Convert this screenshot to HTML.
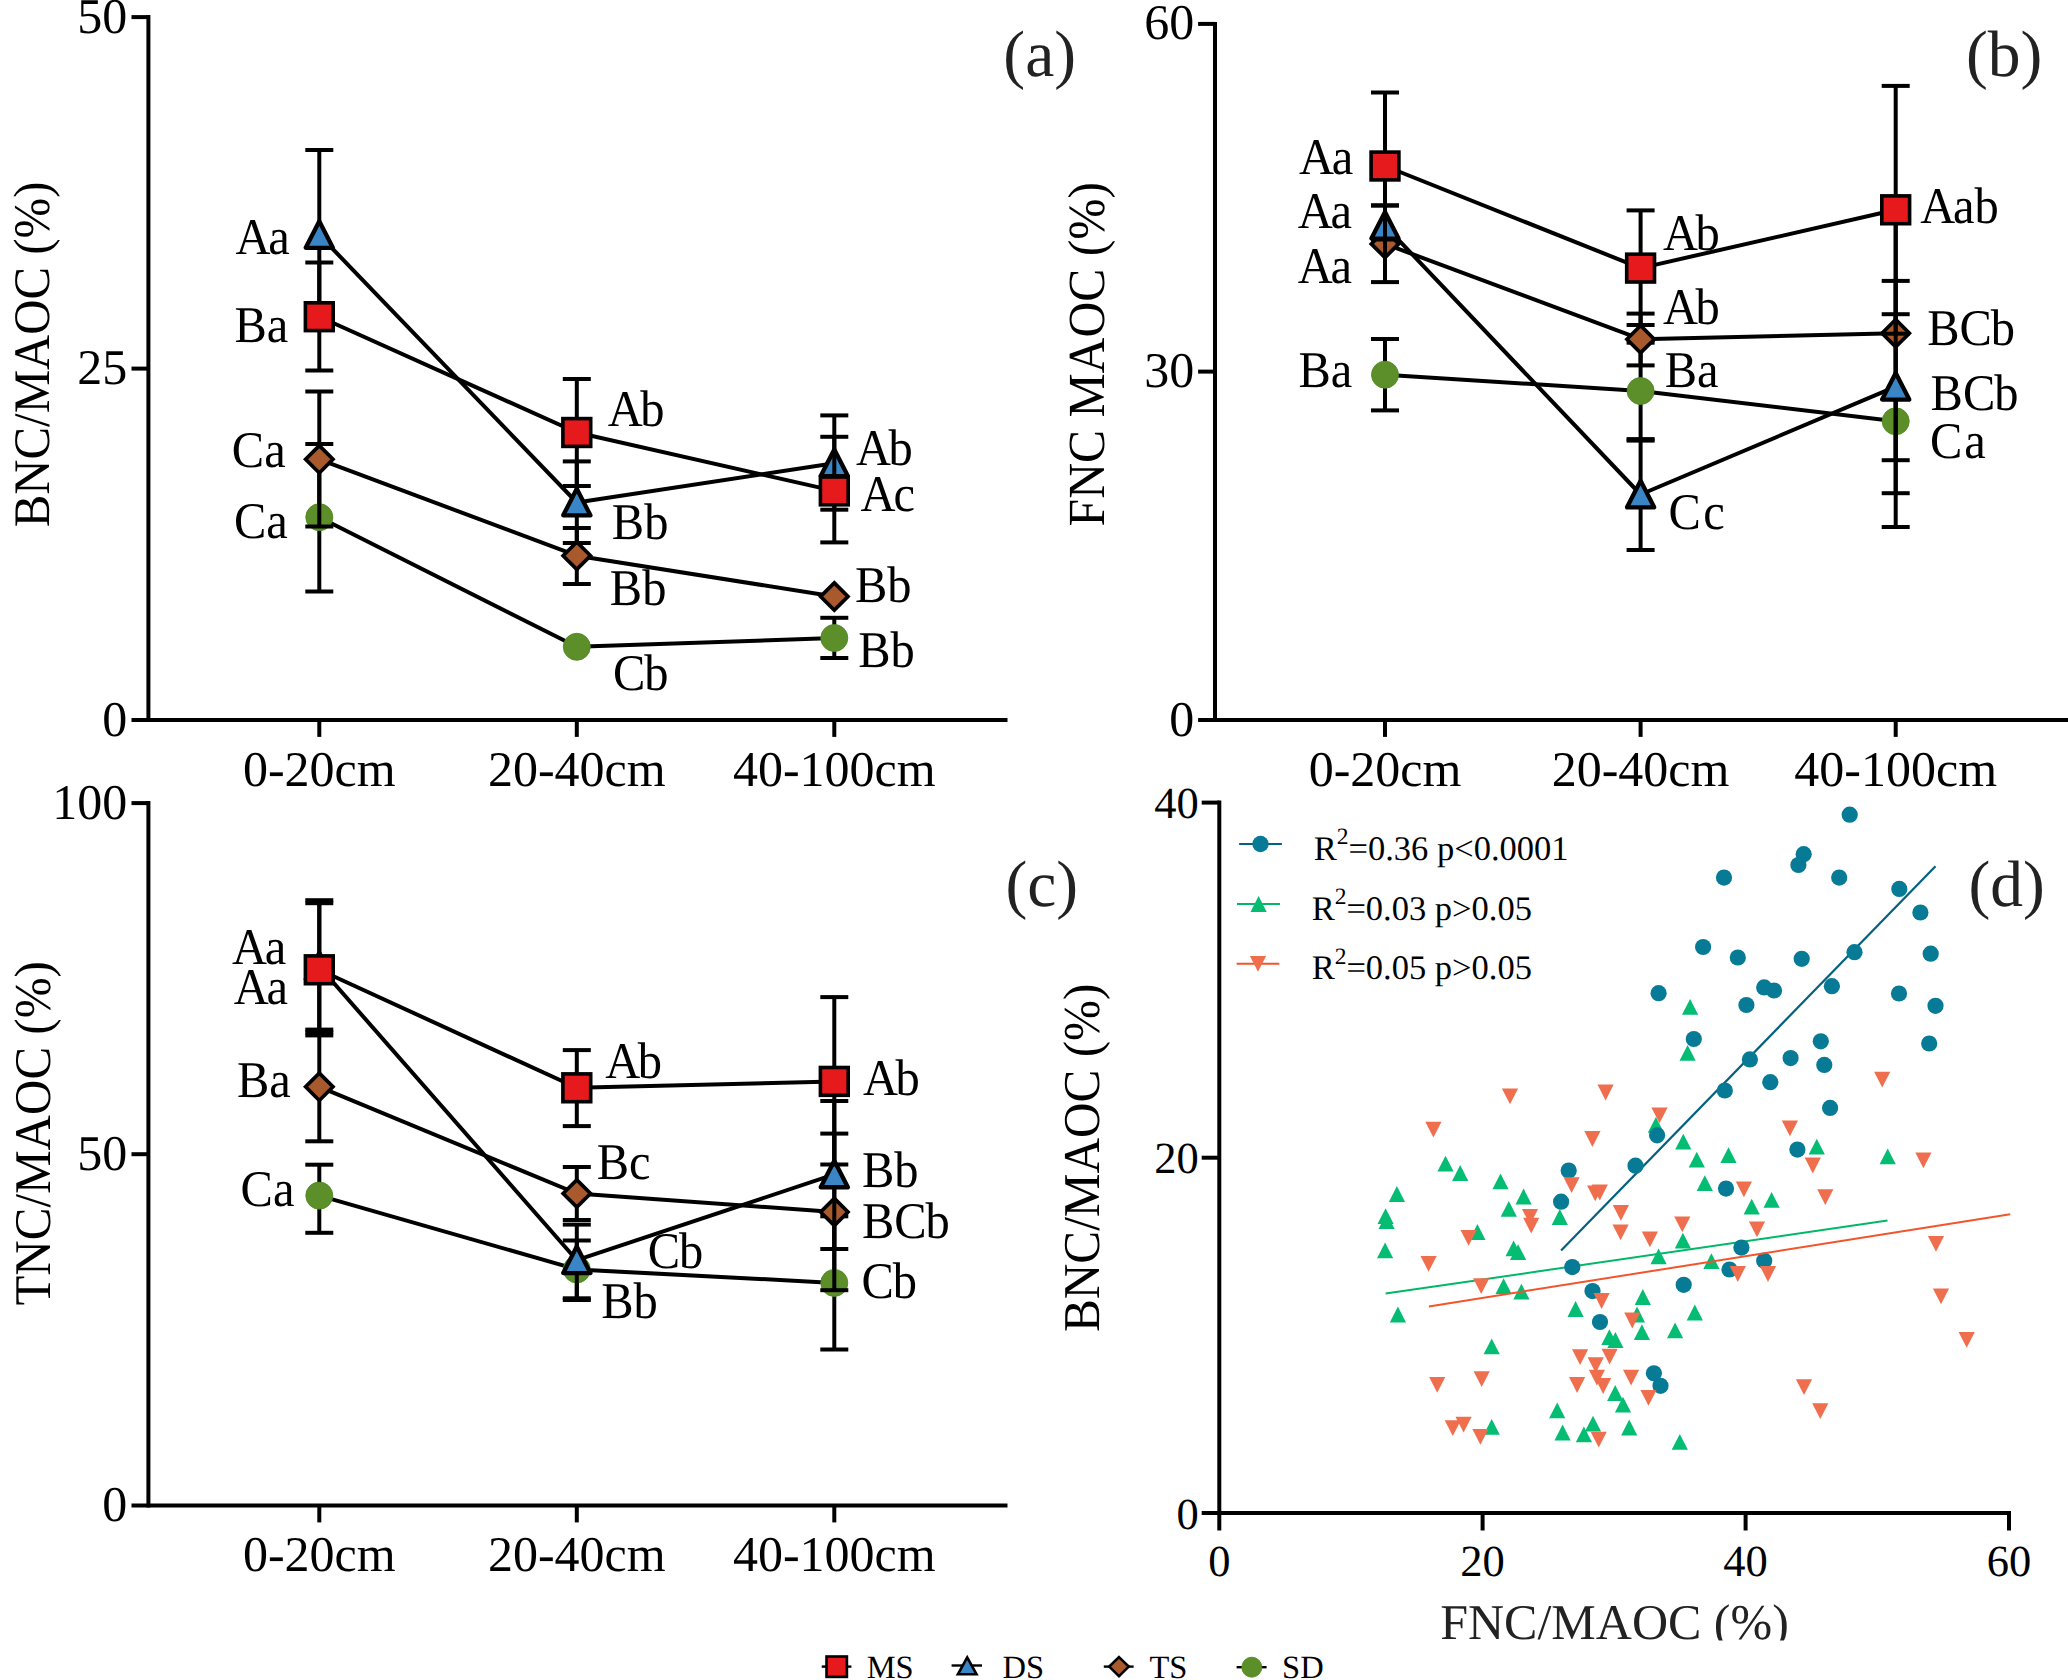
<!DOCTYPE html>
<html><head><meta charset="utf-8"><title>Figure</title>
<style>html,body{margin:0;padding:0;background:#fff;}body{width:2068px;height:1680px;overflow:hidden;font-family:"Liberation Serif",serif;}svg{display:block;}</style></head>
<body>
<svg width="2068" height="1680" viewBox="0 0 2068 1680" font-family="Liberation Serif, serif" text-rendering="geometricPrecision">
<rect width="2068" height="1680" fill="#fff"/>
<defs><clipPath id="cx"><rect x="1400" y="1580" width="420" height="60.6"/></clipPath></defs>
<line x1="148.40" y1="15.10" x2="148.40" y2="722.00" stroke="#000" stroke-width="4.0" stroke-linecap="butt"/>
<line x1="131.50" y1="720.00" x2="1007.50" y2="720.00" stroke="#000" stroke-width="4.0" stroke-linecap="butt"/>
<line x1="131.50" y1="17.10" x2="148.40" y2="17.10" stroke="#000" stroke-width="4.0" stroke-linecap="butt"/>
<line x1="131.50" y1="368.60" x2="148.40" y2="368.60" stroke="#000" stroke-width="4.0" stroke-linecap="butt"/>
<line x1="319.30" y1="720.00" x2="319.30" y2="736.90" stroke="#000" stroke-width="4.0" stroke-linecap="butt"/>
<line x1="576.80" y1="720.00" x2="576.80" y2="736.90" stroke="#000" stroke-width="4.0" stroke-linecap="butt"/>
<line x1="834.30" y1="720.00" x2="834.30" y2="736.90" stroke="#000" stroke-width="4.0" stroke-linecap="butt"/>
<text x="127.30" y="32.60" font-size="50" text-anchor="end" fill="#000" >50</text>
<text x="127.30" y="384.10" font-size="50" text-anchor="end" fill="#000" >25</text>
<text x="127.30" y="735.50" font-size="50" text-anchor="end" fill="#000" >0</text>
<text x="319.30" y="786.00" font-size="50" text-anchor="middle" fill="#000" >0-20cm</text>
<text x="576.80" y="786.00" font-size="50" text-anchor="middle" fill="#000" >20-40cm</text>
<text x="834.30" y="786.00" font-size="50" text-anchor="middle" fill="#000" >40-100cm</text>
<text transform="translate(49.0,354.4) rotate(-90) scale(1,1.05)" font-size="48.8" text-anchor="middle">BNC/MAOC (%)</text>
<polyline points="319.30,517.20 576.80,646.80 834.30,638.00" fill="none" stroke="#000" stroke-width="4.0" stroke-linejoin="round"/>
<line x1="319.30" y1="444.00" x2="319.30" y2="591.50" stroke="#000" stroke-width="4.0" stroke-linecap="butt"/>
<line x1="305.30" y1="444.00" x2="333.30" y2="444.00" stroke="#000" stroke-width="4.0" stroke-linecap="butt"/>
<line x1="305.30" y1="591.50" x2="333.30" y2="591.50" stroke="#000" stroke-width="4.0" stroke-linecap="butt"/>
<line x1="834.30" y1="617.80" x2="834.30" y2="658.00" stroke="#000" stroke-width="4.0" stroke-linecap="butt"/>
<line x1="820.30" y1="617.80" x2="848.30" y2="617.80" stroke="#000" stroke-width="4.0" stroke-linecap="butt"/>
<line x1="820.30" y1="658.00" x2="848.30" y2="658.00" stroke="#000" stroke-width="4.0" stroke-linecap="butt"/>
<circle cx="319.30" cy="517.20" r="13.5" fill="#5c8f2a" stroke="#4e8a1f" stroke-width="0.9"/>
<circle cx="576.80" cy="646.80" r="13.5" fill="#5c8f2a" stroke="#4e8a1f" stroke-width="0.9"/>
<circle cx="834.30" cy="638.00" r="13.5" fill="#5c8f2a" stroke="#4e8a1f" stroke-width="0.9"/>
<polyline points="319.30,459.30 576.80,555.70 834.30,596.50" fill="none" stroke="#000" stroke-width="4.0" stroke-linejoin="round"/>
<line x1="319.30" y1="391.50" x2="319.30" y2="526.50" stroke="#000" stroke-width="4.0" stroke-linecap="butt"/>
<line x1="305.30" y1="391.50" x2="333.30" y2="391.50" stroke="#000" stroke-width="4.0" stroke-linecap="butt"/>
<line x1="305.30" y1="526.50" x2="333.30" y2="526.50" stroke="#000" stroke-width="4.0" stroke-linecap="butt"/>
<line x1="576.80" y1="528.00" x2="576.80" y2="584.00" stroke="#000" stroke-width="4.0" stroke-linecap="butt"/>
<line x1="562.80" y1="528.00" x2="590.80" y2="528.00" stroke="#000" stroke-width="4.0" stroke-linecap="butt"/>
<line x1="562.80" y1="584.00" x2="590.80" y2="584.00" stroke="#000" stroke-width="4.0" stroke-linecap="butt"/>
<path d="M319.30,445.62 L332.98,459.30 L319.30,472.98 L305.62,459.30 Z" fill="#a95a2c" stroke="#000" stroke-width="3.7" stroke-linejoin="miter"/>
<path d="M576.80,542.02 L590.48,555.70 L576.80,569.38 L563.12,555.70 Z" fill="#a95a2c" stroke="#000" stroke-width="3.7" stroke-linejoin="miter"/>
<path d="M834.30,582.82 L847.98,596.50 L834.30,610.18 L820.62,596.50 Z" fill="#a95a2c" stroke="#000" stroke-width="3.7" stroke-linejoin="miter"/>
<polyline points="319.30,235.00 576.80,502.50 834.30,463.20" fill="none" stroke="#000" stroke-width="4.0" stroke-linejoin="round"/>
<line x1="319.30" y1="150.00" x2="319.30" y2="320.00" stroke="#000" stroke-width="4.0" stroke-linecap="butt"/>
<line x1="305.30" y1="150.00" x2="333.30" y2="150.00" stroke="#000" stroke-width="4.0" stroke-linecap="butt"/>
<line x1="305.30" y1="320.00" x2="333.30" y2="320.00" stroke="#000" stroke-width="4.0" stroke-linecap="butt"/>
<line x1="576.80" y1="461.40" x2="576.80" y2="543.00" stroke="#000" stroke-width="4.0" stroke-linecap="butt"/>
<line x1="562.80" y1="461.40" x2="590.80" y2="461.40" stroke="#000" stroke-width="4.0" stroke-linecap="butt"/>
<line x1="562.80" y1="543.00" x2="590.80" y2="543.00" stroke="#000" stroke-width="4.0" stroke-linecap="butt"/>
<line x1="834.30" y1="415.40" x2="834.30" y2="509.70" stroke="#000" stroke-width="4.0" stroke-linecap="butt"/>
<line x1="820.30" y1="415.40" x2="848.30" y2="415.40" stroke="#000" stroke-width="4.0" stroke-linecap="butt"/>
<line x1="820.30" y1="509.70" x2="848.30" y2="509.70" stroke="#000" stroke-width="4.0" stroke-linecap="butt"/>
<path d="M319.30,221.30 L332.90,247.85 L305.70,247.85 Z" fill="#3a85c5" stroke="#000" stroke-width="4.3" stroke-linejoin="round"/>
<path d="M576.80,488.80 L590.40,515.35 L563.20,515.35 Z" fill="#3a85c5" stroke="#000" stroke-width="4.3" stroke-linejoin="round"/>
<path d="M834.30,449.50 L847.90,476.05 L820.70,476.05 Z" fill="#3a85c5" stroke="#000" stroke-width="4.3" stroke-linejoin="round"/>
<polyline points="319.30,316.70 576.80,432.50 834.30,490.90" fill="none" stroke="#000" stroke-width="4.0" stroke-linejoin="round"/>
<line x1="319.30" y1="262.50" x2="319.30" y2="370.50" stroke="#000" stroke-width="4.0" stroke-linecap="butt"/>
<line x1="305.30" y1="262.50" x2="333.30" y2="262.50" stroke="#000" stroke-width="4.0" stroke-linecap="butt"/>
<line x1="305.30" y1="370.50" x2="333.30" y2="370.50" stroke="#000" stroke-width="4.0" stroke-linecap="butt"/>
<line x1="576.80" y1="379.00" x2="576.80" y2="486.00" stroke="#000" stroke-width="4.0" stroke-linecap="butt"/>
<line x1="562.80" y1="379.00" x2="590.80" y2="379.00" stroke="#000" stroke-width="4.0" stroke-linecap="butt"/>
<line x1="562.80" y1="486.00" x2="590.80" y2="486.00" stroke="#000" stroke-width="4.0" stroke-linecap="butt"/>
<line x1="834.30" y1="436.80" x2="834.30" y2="542.40" stroke="#000" stroke-width="4.0" stroke-linecap="butt"/>
<line x1="820.30" y1="436.80" x2="848.30" y2="436.80" stroke="#000" stroke-width="4.0" stroke-linecap="butt"/>
<line x1="820.30" y1="542.40" x2="848.30" y2="542.40" stroke="#000" stroke-width="4.0" stroke-linecap="butt"/>
<rect x="305.40" y="302.80" width="27.80" height="27.80" fill="#e6191c" stroke="#000" stroke-width="3.6"/>
<rect x="562.90" y="418.60" width="27.80" height="27.80" fill="#e6191c" stroke="#000" stroke-width="3.6"/>
<rect x="820.40" y="477.00" width="27.80" height="27.80" fill="#e6191c" stroke="#000" stroke-width="3.6"/>
<text transform="translate(235.50,254.00) scale(0.97,1.03)" font-size="50" text-anchor="start" fill="#000" >A<tspan dx="-2.4">a</tspan></text>
<text transform="translate(234.50,341.50) scale(0.97,1.03)" font-size="50" text-anchor="start" fill="#000" >Ba</text>
<text transform="translate(231.80,467.40) scale(0.97,1.03)" font-size="50" text-anchor="start" fill="#000" >Ca</text>
<text transform="translate(233.90,537.80) scale(0.97,1.03)" font-size="50" text-anchor="start" fill="#000" >Ca</text>
<text transform="translate(607.70,426.00) scale(0.97,1.03)" font-size="50" text-anchor="start" fill="#000" >A<tspan dx="-2.6">b</tspan></text>
<text transform="translate(611.80,538.60) scale(0.97,1.03)" font-size="50" text-anchor="start" fill="#000" >Bb</text>
<text transform="translate(609.80,605.30) scale(0.97,1.03)" font-size="50" text-anchor="start" fill="#000" >Bb</text>
<text transform="translate(613.00,690.00) scale(0.97,1.03)" font-size="50" text-anchor="start" fill="#000" >C<tspan dx="-1.2">b</tspan></text>
<text transform="translate(855.90,465.00) scale(0.97,1.03)" font-size="50" text-anchor="start" fill="#000" >A<tspan dx="-2.6">b</tspan></text>
<text transform="translate(860.50,511.00) scale(0.97,1.03)" font-size="50" text-anchor="start" fill="#000" >A<tspan dx="-2.2">c</tspan></text>
<text transform="translate(854.90,602.30) scale(0.97,1.03)" font-size="50" text-anchor="start" fill="#000" >Bb</text>
<text transform="translate(858.20,666.90) scale(0.97,1.03)" font-size="50" text-anchor="start" fill="#000" >Bb</text>
<text x="1003.35" y="76.00" font-size="65.5" text-anchor="start" fill="#222" >(a)</text>
<line x1="1215.00" y1="21.90" x2="1215.00" y2="722.00" stroke="#000" stroke-width="4.0" stroke-linecap="butt"/>
<line x1="1198.10" y1="720.00" x2="2068.00" y2="720.00" stroke="#000" stroke-width="4.0" stroke-linecap="butt"/>
<line x1="1198.10" y1="23.90" x2="1215.00" y2="23.90" stroke="#000" stroke-width="4.0" stroke-linecap="butt"/>
<line x1="1198.10" y1="371.60" x2="1215.00" y2="371.60" stroke="#000" stroke-width="4.0" stroke-linecap="butt"/>
<line x1="1385.00" y1="720.00" x2="1385.00" y2="736.90" stroke="#000" stroke-width="4.0" stroke-linecap="butt"/>
<line x1="1640.60" y1="720.00" x2="1640.60" y2="736.90" stroke="#000" stroke-width="4.0" stroke-linecap="butt"/>
<line x1="1895.70" y1="720.00" x2="1895.70" y2="736.90" stroke="#000" stroke-width="4.0" stroke-linecap="butt"/>
<text x="1194.30" y="39.40" font-size="50" text-anchor="end" fill="#000" >60</text>
<text x="1194.30" y="387.10" font-size="50" text-anchor="end" fill="#000" >30</text>
<text x="1194.30" y="735.50" font-size="50" text-anchor="end" fill="#000" >0</text>
<text x="1385.00" y="786.00" font-size="50" text-anchor="middle" fill="#000" >0-20cm</text>
<text x="1640.60" y="786.00" font-size="50" text-anchor="middle" fill="#000" >20-40cm</text>
<text x="1895.70" y="786.00" font-size="50" text-anchor="middle" fill="#000" >40-100cm</text>
<text transform="translate(1104.0,354.2) rotate(-90) scale(1,1.05)" font-size="49.6" text-anchor="middle">FNC MAOC (%)</text>
<polyline points="1385.00,374.70 1640.60,391.00 1895.70,421.30" fill="none" stroke="#000" stroke-width="4.0" stroke-linejoin="round"/>
<line x1="1385.00" y1="339.00" x2="1385.00" y2="410.40" stroke="#000" stroke-width="4.0" stroke-linecap="butt"/>
<line x1="1371.00" y1="339.00" x2="1399.00" y2="339.00" stroke="#000" stroke-width="4.0" stroke-linecap="butt"/>
<line x1="1371.00" y1="410.40" x2="1399.00" y2="410.40" stroke="#000" stroke-width="4.0" stroke-linecap="butt"/>
<line x1="1640.60" y1="342.70" x2="1640.60" y2="440.60" stroke="#000" stroke-width="4.0" stroke-linecap="butt"/>
<line x1="1626.60" y1="342.70" x2="1654.60" y2="342.70" stroke="#000" stroke-width="4.0" stroke-linecap="butt"/>
<line x1="1626.60" y1="440.60" x2="1654.60" y2="440.60" stroke="#000" stroke-width="4.0" stroke-linecap="butt"/>
<line x1="1895.70" y1="314.20" x2="1895.70" y2="527.00" stroke="#000" stroke-width="4.0" stroke-linecap="butt"/>
<line x1="1881.70" y1="314.20" x2="1909.70" y2="314.20" stroke="#000" stroke-width="4.0" stroke-linecap="butt"/>
<line x1="1881.70" y1="527.00" x2="1909.70" y2="527.00" stroke="#000" stroke-width="4.0" stroke-linecap="butt"/>
<circle cx="1385.00" cy="374.70" r="13.5" fill="#5c8f2a" stroke="#4e8a1f" stroke-width="0.9"/>
<circle cx="1640.60" cy="391.00" r="13.5" fill="#5c8f2a" stroke="#4e8a1f" stroke-width="0.9"/>
<circle cx="1895.70" cy="421.30" r="13.5" fill="#5c8f2a" stroke="#4e8a1f" stroke-width="0.9"/>
<polyline points="1385.00,243.90 1640.60,339.20 1895.70,333.20" fill="none" stroke="#000" stroke-width="4.0" stroke-linejoin="round"/>
<line x1="1385.00" y1="205.50" x2="1385.00" y2="282.10" stroke="#000" stroke-width="4.0" stroke-linecap="butt"/>
<line x1="1371.00" y1="205.50" x2="1399.00" y2="205.50" stroke="#000" stroke-width="4.0" stroke-linecap="butt"/>
<line x1="1371.00" y1="282.10" x2="1399.00" y2="282.10" stroke="#000" stroke-width="4.0" stroke-linecap="butt"/>
<line x1="1640.60" y1="313.60" x2="1640.60" y2="365.40" stroke="#000" stroke-width="4.0" stroke-linecap="butt"/>
<line x1="1626.60" y1="313.60" x2="1654.60" y2="313.60" stroke="#000" stroke-width="4.0" stroke-linecap="butt"/>
<line x1="1626.60" y1="365.40" x2="1654.60" y2="365.40" stroke="#000" stroke-width="4.0" stroke-linecap="butt"/>
<line x1="1895.70" y1="206.00" x2="1895.70" y2="460.20" stroke="#000" stroke-width="4.0" stroke-linecap="butt"/>
<line x1="1881.70" y1="206.00" x2="1909.70" y2="206.00" stroke="#000" stroke-width="4.0" stroke-linecap="butt"/>
<line x1="1881.70" y1="460.20" x2="1909.70" y2="460.20" stroke="#000" stroke-width="4.0" stroke-linecap="butt"/>
<path d="M1385.00,230.22 L1398.68,243.90 L1385.00,257.58 L1371.32,243.90 Z" fill="#a95a2c" stroke="#000" stroke-width="3.7" stroke-linejoin="miter"/>
<path d="M1640.60,325.52 L1654.28,339.20 L1640.60,352.88 L1626.92,339.20 Z" fill="#a95a2c" stroke="#000" stroke-width="3.7" stroke-linejoin="miter"/>
<path d="M1895.70,319.52 L1909.38,333.20 L1895.70,346.88 L1882.02,333.20 Z" fill="#a95a2c" stroke="#000" stroke-width="3.7" stroke-linejoin="miter"/>
<polyline points="1385.00,225.70 1640.60,494.50 1895.70,386.70" fill="none" stroke="#000" stroke-width="4.0" stroke-linejoin="round"/>
<line x1="1385.00" y1="205.40" x2="1385.00" y2="256.00" stroke="#000" stroke-width="4.0" stroke-linecap="butt"/>
<line x1="1371.00" y1="205.40" x2="1399.00" y2="205.40" stroke="#000" stroke-width="4.0" stroke-linecap="butt"/>
<line x1="1640.60" y1="439.10" x2="1640.60" y2="550.00" stroke="#000" stroke-width="4.0" stroke-linecap="butt"/>
<line x1="1626.60" y1="439.10" x2="1654.60" y2="439.10" stroke="#000" stroke-width="4.0" stroke-linecap="butt"/>
<line x1="1626.60" y1="550.00" x2="1654.60" y2="550.00" stroke="#000" stroke-width="4.0" stroke-linecap="butt"/>
<line x1="1895.70" y1="280.90" x2="1895.70" y2="493.20" stroke="#000" stroke-width="4.0" stroke-linecap="butt"/>
<line x1="1881.70" y1="280.90" x2="1909.70" y2="280.90" stroke="#000" stroke-width="4.0" stroke-linecap="butt"/>
<line x1="1881.70" y1="493.20" x2="1909.70" y2="493.20" stroke="#000" stroke-width="4.0" stroke-linecap="butt"/>
<path d="M1385.00,212.00 L1398.60,238.55 L1371.40,238.55 Z" fill="#3a85c5" stroke="#000" stroke-width="4.3" stroke-linejoin="round"/>
<path d="M1640.60,480.80 L1654.20,507.35 L1627.00,507.35 Z" fill="#3a85c5" stroke="#000" stroke-width="4.3" stroke-linejoin="round"/>
<path d="M1895.70,373.00 L1909.30,399.55 L1882.10,399.55 Z" fill="#3a85c5" stroke="#000" stroke-width="4.3" stroke-linejoin="round"/>
<polyline points="1385.00,166.00 1640.60,268.10 1895.70,209.80" fill="none" stroke="#000" stroke-width="4.0" stroke-linejoin="round"/>
<line x1="1385.00" y1="92.50" x2="1385.00" y2="239.50" stroke="#000" stroke-width="4.0" stroke-linecap="butt"/>
<line x1="1371.00" y1="92.50" x2="1399.00" y2="92.50" stroke="#000" stroke-width="4.0" stroke-linecap="butt"/>
<line x1="1371.00" y1="239.50" x2="1399.00" y2="239.50" stroke="#000" stroke-width="4.0" stroke-linecap="butt"/>
<line x1="1640.60" y1="210.40" x2="1640.60" y2="325.00" stroke="#000" stroke-width="4.0" stroke-linecap="butt"/>
<line x1="1626.60" y1="210.40" x2="1654.60" y2="210.40" stroke="#000" stroke-width="4.0" stroke-linecap="butt"/>
<line x1="1626.60" y1="325.00" x2="1654.60" y2="325.00" stroke="#000" stroke-width="4.0" stroke-linecap="butt"/>
<line x1="1895.70" y1="85.90" x2="1895.70" y2="333.70" stroke="#000" stroke-width="4.0" stroke-linecap="butt"/>
<line x1="1881.70" y1="85.90" x2="1909.70" y2="85.90" stroke="#000" stroke-width="4.0" stroke-linecap="butt"/>
<line x1="1881.70" y1="333.70" x2="1909.70" y2="333.70" stroke="#000" stroke-width="4.0" stroke-linecap="butt"/>
<rect x="1371.10" y="152.10" width="27.80" height="27.80" fill="#e6191c" stroke="#000" stroke-width="3.6"/>
<rect x="1626.70" y="254.20" width="27.80" height="27.80" fill="#e6191c" stroke="#000" stroke-width="3.6"/>
<rect x="1881.80" y="195.90" width="27.80" height="27.80" fill="#e6191c" stroke="#000" stroke-width="3.6"/>
<text x="1966.05" y="76.00" font-size="65.5" text-anchor="start" fill="#222" >(b)</text>
<line x1="148.40" y1="801.10" x2="148.40" y2="1507.50" stroke="#000" stroke-width="4.0" stroke-linecap="butt"/>
<line x1="131.50" y1="1505.50" x2="1007.50" y2="1505.50" stroke="#000" stroke-width="4.0" stroke-linecap="butt"/>
<line x1="131.50" y1="803.10" x2="148.40" y2="803.10" stroke="#000" stroke-width="4.0" stroke-linecap="butt"/>
<line x1="131.50" y1="1154.20" x2="148.40" y2="1154.20" stroke="#000" stroke-width="4.0" stroke-linecap="butt"/>
<line x1="319.30" y1="1505.50" x2="319.30" y2="1522.40" stroke="#000" stroke-width="4.0" stroke-linecap="butt"/>
<line x1="576.80" y1="1505.50" x2="576.80" y2="1522.40" stroke="#000" stroke-width="4.0" stroke-linecap="butt"/>
<line x1="834.30" y1="1505.50" x2="834.30" y2="1522.40" stroke="#000" stroke-width="4.0" stroke-linecap="butt"/>
<text x="127.30" y="818.60" font-size="50" text-anchor="end" fill="#000" >100</text>
<text x="127.30" y="1169.70" font-size="50" text-anchor="end" fill="#000" >50</text>
<text x="127.30" y="1521.00" font-size="50" text-anchor="end" fill="#000" >0</text>
<text x="319.30" y="1571.00" font-size="50" text-anchor="middle" fill="#000" >0-20cm</text>
<text x="576.80" y="1571.00" font-size="50" text-anchor="middle" fill="#000" >20-40cm</text>
<text x="834.30" y="1571.00" font-size="50" text-anchor="middle" fill="#000" >40-100cm</text>
<text transform="translate(49.5,1133.4) rotate(-90) scale(1,1.05)" font-size="49" text-anchor="middle">TNC/MAOC (%)</text>
<polyline points="319.30,1195.60 576.80,1269.40 834.30,1282.90" fill="none" stroke="#000" stroke-width="4.0" stroke-linejoin="round"/>
<line x1="319.30" y1="1164.70" x2="319.30" y2="1232.80" stroke="#000" stroke-width="4.0" stroke-linecap="butt"/>
<line x1="305.30" y1="1164.70" x2="333.30" y2="1164.70" stroke="#000" stroke-width="4.0" stroke-linecap="butt"/>
<line x1="305.30" y1="1232.80" x2="333.30" y2="1232.80" stroke="#000" stroke-width="4.0" stroke-linecap="butt"/>
<line x1="576.80" y1="1240.50" x2="576.80" y2="1298.30" stroke="#000" stroke-width="4.0" stroke-linecap="butt"/>
<line x1="562.80" y1="1240.50" x2="590.80" y2="1240.50" stroke="#000" stroke-width="4.0" stroke-linecap="butt"/>
<line x1="562.80" y1="1298.30" x2="590.80" y2="1298.30" stroke="#000" stroke-width="4.0" stroke-linecap="butt"/>
<line x1="834.30" y1="1216.30" x2="834.30" y2="1349.50" stroke="#000" stroke-width="4.0" stroke-linecap="butt"/>
<line x1="820.30" y1="1216.30" x2="848.30" y2="1216.30" stroke="#000" stroke-width="4.0" stroke-linecap="butt"/>
<line x1="820.30" y1="1349.50" x2="848.30" y2="1349.50" stroke="#000" stroke-width="4.0" stroke-linecap="butt"/>
<circle cx="319.30" cy="1195.60" r="13.5" fill="#5c8f2a" stroke="#4e8a1f" stroke-width="0.9"/>
<circle cx="576.80" cy="1269.40" r="13.5" fill="#5c8f2a" stroke="#4e8a1f" stroke-width="0.9"/>
<circle cx="834.30" cy="1282.90" r="13.5" fill="#5c8f2a" stroke="#4e8a1f" stroke-width="0.9"/>
<polyline points="319.30,1086.80 576.80,1193.50 834.30,1212.00" fill="none" stroke="#000" stroke-width="4.0" stroke-linejoin="round"/>
<line x1="319.30" y1="1032.30" x2="319.30" y2="1141.30" stroke="#000" stroke-width="4.0" stroke-linecap="butt"/>
<line x1="305.30" y1="1032.30" x2="333.30" y2="1032.30" stroke="#000" stroke-width="4.0" stroke-linecap="butt"/>
<line x1="305.30" y1="1141.30" x2="333.30" y2="1141.30" stroke="#000" stroke-width="4.0" stroke-linecap="butt"/>
<line x1="576.80" y1="1167.00" x2="576.80" y2="1220.00" stroke="#000" stroke-width="4.0" stroke-linecap="butt"/>
<line x1="562.80" y1="1167.00" x2="590.80" y2="1167.00" stroke="#000" stroke-width="4.0" stroke-linecap="butt"/>
<line x1="562.80" y1="1220.00" x2="590.80" y2="1220.00" stroke="#000" stroke-width="4.0" stroke-linecap="butt"/>
<line x1="834.30" y1="1133.60" x2="834.30" y2="1290.20" stroke="#000" stroke-width="4.0" stroke-linecap="butt"/>
<line x1="820.30" y1="1133.60" x2="848.30" y2="1133.60" stroke="#000" stroke-width="4.0" stroke-linecap="butt"/>
<line x1="820.30" y1="1290.20" x2="848.30" y2="1290.20" stroke="#000" stroke-width="4.0" stroke-linecap="butt"/>
<path d="M319.30,1073.12 L332.98,1086.80 L319.30,1100.48 L305.62,1086.80 Z" fill="#a95a2c" stroke="#000" stroke-width="3.7" stroke-linejoin="miter"/>
<path d="M576.80,1179.82 L590.48,1193.50 L576.80,1207.18 L563.12,1193.50 Z" fill="#a95a2c" stroke="#000" stroke-width="3.7" stroke-linejoin="miter"/>
<path d="M834.30,1198.32 L847.98,1212.00 L834.30,1225.68 L820.62,1212.00 Z" fill="#a95a2c" stroke="#000" stroke-width="3.7" stroke-linejoin="miter"/>
<polyline points="319.30,966.50 576.80,1260.20 834.30,1174.40" fill="none" stroke="#000" stroke-width="4.0" stroke-linejoin="round"/>
<line x1="319.30" y1="900.20" x2="319.30" y2="1029.60" stroke="#000" stroke-width="4.0" stroke-linecap="butt"/>
<line x1="305.30" y1="900.20" x2="333.30" y2="900.20" stroke="#000" stroke-width="4.0" stroke-linecap="butt"/>
<line x1="305.30" y1="1029.60" x2="333.30" y2="1029.60" stroke="#000" stroke-width="4.0" stroke-linecap="butt"/>
<line x1="576.80" y1="1224.60" x2="576.80" y2="1300.00" stroke="#000" stroke-width="4.0" stroke-linecap="butt"/>
<line x1="562.80" y1="1224.60" x2="590.80" y2="1224.60" stroke="#000" stroke-width="4.0" stroke-linecap="butt"/>
<line x1="562.80" y1="1300.00" x2="590.80" y2="1300.00" stroke="#000" stroke-width="4.0" stroke-linecap="butt"/>
<line x1="834.30" y1="1101.00" x2="834.30" y2="1249.00" stroke="#000" stroke-width="4.0" stroke-linecap="butt"/>
<line x1="820.30" y1="1101.00" x2="848.30" y2="1101.00" stroke="#000" stroke-width="4.0" stroke-linecap="butt"/>
<line x1="820.30" y1="1249.00" x2="848.30" y2="1249.00" stroke="#000" stroke-width="4.0" stroke-linecap="butt"/>
<path d="M319.30,952.80 L332.90,979.35 L305.70,979.35 Z" fill="#3a85c5" stroke="#000" stroke-width="4.3" stroke-linejoin="round"/>
<path d="M576.80,1246.50 L590.40,1273.05 L563.20,1273.05 Z" fill="#3a85c5" stroke="#000" stroke-width="4.3" stroke-linejoin="round"/>
<path d="M834.30,1160.70 L847.90,1187.25 L820.70,1187.25 Z" fill="#3a85c5" stroke="#000" stroke-width="4.3" stroke-linejoin="round"/>
<polyline points="319.30,969.80 576.80,1087.80 834.30,1081.40" fill="none" stroke="#000" stroke-width="4.0" stroke-linejoin="round"/>
<line x1="319.30" y1="903.20" x2="319.30" y2="1035.40" stroke="#000" stroke-width="4.0" stroke-linecap="butt"/>
<line x1="305.30" y1="903.20" x2="333.30" y2="903.20" stroke="#000" stroke-width="4.0" stroke-linecap="butt"/>
<line x1="305.30" y1="1035.40" x2="333.30" y2="1035.40" stroke="#000" stroke-width="4.0" stroke-linecap="butt"/>
<line x1="576.80" y1="1050.10" x2="576.80" y2="1126.10" stroke="#000" stroke-width="4.0" stroke-linecap="butt"/>
<line x1="562.80" y1="1050.10" x2="590.80" y2="1050.10" stroke="#000" stroke-width="4.0" stroke-linecap="butt"/>
<line x1="562.80" y1="1126.10" x2="590.80" y2="1126.10" stroke="#000" stroke-width="4.0" stroke-linecap="butt"/>
<line x1="834.30" y1="997.10" x2="834.30" y2="1164.50" stroke="#000" stroke-width="4.0" stroke-linecap="butt"/>
<line x1="820.30" y1="997.10" x2="848.30" y2="997.10" stroke="#000" stroke-width="4.0" stroke-linecap="butt"/>
<line x1="820.30" y1="1164.50" x2="848.30" y2="1164.50" stroke="#000" stroke-width="4.0" stroke-linecap="butt"/>
<rect x="305.40" y="955.90" width="27.80" height="27.80" fill="#e6191c" stroke="#000" stroke-width="3.6"/>
<rect x="562.90" y="1073.90" width="27.80" height="27.80" fill="#e6191c" stroke="#000" stroke-width="3.6"/>
<rect x="820.40" y="1067.50" width="27.80" height="27.80" fill="#e6191c" stroke="#000" stroke-width="3.6"/>
<text transform="translate(232.10,964.00) scale(0.97,1.03)" font-size="50" text-anchor="start" fill="#000" >A<tspan dx="-2.4">a</tspan></text>
<text transform="translate(233.80,1003.80) scale(0.97,1.03)" font-size="50" text-anchor="start" fill="#000" >A<tspan dx="-2.4">a</tspan></text>
<text transform="translate(236.90,1096.80) scale(0.97,1.03)" font-size="50" text-anchor="start" fill="#000" >Ba</text>
<text transform="translate(240.60,1205.50) scale(0.97,1.03)" font-size="50" text-anchor="start" fill="#000" >Ca</text>
<text transform="translate(605.20,1077.80) scale(0.97,1.03)" font-size="50" text-anchor="start" fill="#000" >A<tspan dx="-2.6">b</tspan></text>
<text transform="translate(596.70,1179.40) scale(0.97,1.03)" font-size="50" text-anchor="start" fill="#000" >Bc</text>
<text transform="translate(647.70,1268.10) scale(0.97,1.03)" font-size="50" text-anchor="start" fill="#000" >C<tspan dx="-1.2">b</tspan></text>
<text transform="translate(601.20,1318.40) scale(0.97,1.03)" font-size="50" text-anchor="start" fill="#000" >Bb</text>
<text transform="translate(863.00,1094.60) scale(0.97,1.03)" font-size="50" text-anchor="start" fill="#000" >A<tspan dx="-2.6">b</tspan></text>
<text transform="translate(862.00,1186.90) scale(0.97,1.03)" font-size="50" text-anchor="start" fill="#000" >Bb</text>
<text transform="translate(862.00,1237.50) scale(0.97,1.03)" font-size="50" text-anchor="start" fill="#000" >BC<tspan dx="-1.2">b</tspan></text>
<text transform="translate(861.50,1298.30) scale(0.97,1.03)" font-size="50" text-anchor="start" fill="#000" >C<tspan dx="-1.2">b</tspan></text>
<text x="1005.45" y="905.90" font-size="65.5" text-anchor="start" fill="#222" >(c)</text>
<text transform="translate(1299.00,174.00) scale(0.97,1.03)" font-size="50" text-anchor="start" fill="#000" >A<tspan dx="-2.4">a</tspan></text>
<text transform="translate(1297.70,228.30) scale(0.97,1.03)" font-size="50" text-anchor="start" fill="#000" >A<tspan dx="-2.4">a</tspan></text>
<text transform="translate(1297.70,283.40) scale(0.97,1.03)" font-size="50" text-anchor="start" fill="#000" >A<tspan dx="-2.4">a</tspan></text>
<text transform="translate(1298.50,387.20) scale(0.97,1.03)" font-size="50" text-anchor="start" fill="#000" >Ba</text>
<text transform="translate(1662.90,250.20) scale(0.97,1.03)" font-size="50" text-anchor="start" fill="#000" >A<tspan dx="-2.6">b</tspan></text>
<text transform="translate(1662.90,324.10) scale(0.97,1.03)" font-size="50" text-anchor="start" fill="#000" >A<tspan dx="-2.6">b</tspan></text>
<text transform="translate(1664.70,386.70) scale(0.97,1.03)" font-size="50" text-anchor="start" fill="#000" >Ba</text>
<text transform="translate(1920.20,223.20) scale(0.97,1.03)" font-size="50" text-anchor="start" fill="#000" >A<tspan dx="-2.4">a</tspan>b</text>
<text transform="translate(1927.20,344.90) scale(0.97,1.03)" font-size="50" text-anchor="start" fill="#000" >BC<tspan dx="-1.2">b</tspan></text>
<text transform="translate(1930.60,410.30) scale(0.97,1.03)" font-size="50" text-anchor="start" fill="#000" >BC<tspan dx="-1.2">b</tspan></text>
<text transform="translate(1930.10,457.50) scale(0.97,1.03)" font-size="50" text-anchor="start" fill="#000" letter-spacing="1.8">Ca</text>
<text transform="translate(1668.50,528.70) scale(0.97,1.03)" font-size="50" text-anchor="start" fill="#000" letter-spacing="2.5">Cc</text>
<line x1="1219.30" y1="800.60" x2="1219.30" y2="1530.50" stroke="#000" stroke-width="4.0" stroke-linecap="butt"/>
<line x1="1201.70" y1="1513.00" x2="2011.00" y2="1513.00" stroke="#000" stroke-width="4.0" stroke-linecap="butt"/>
<line x1="1201.70" y1="802.60" x2="1219.30" y2="802.60" stroke="#000" stroke-width="4.0" stroke-linecap="butt"/>
<line x1="1201.70" y1="1157.70" x2="1219.30" y2="1157.70" stroke="#000" stroke-width="4.0" stroke-linecap="butt"/>
<line x1="1482.60" y1="1513.00" x2="1482.60" y2="1530.50" stroke="#000" stroke-width="4.0" stroke-linecap="butt"/>
<line x1="1745.60" y1="1513.00" x2="1745.60" y2="1530.50" stroke="#000" stroke-width="4.0" stroke-linecap="butt"/>
<line x1="2009.00" y1="1513.00" x2="2009.00" y2="1530.50" stroke="#000" stroke-width="4.0" stroke-linecap="butt"/>
<text x="1198.80" y="817.60" font-size="44.5" text-anchor="end" fill="#000" >40</text>
<text x="1198.80" y="1172.70" font-size="44.5" text-anchor="end" fill="#000" >20</text>
<text x="1198.80" y="1529.00" font-size="44.5" text-anchor="end" fill="#000" >0</text>
<text x="1219.30" y="1576.40" font-size="44.5" text-anchor="middle" fill="#000" >0</text>
<text x="1482.60" y="1576.40" font-size="44.5" text-anchor="middle" fill="#000" >20</text>
<text x="1745.60" y="1576.40" font-size="44.5" text-anchor="middle" fill="#000" >40</text>
<text x="2009.00" y="1576.40" font-size="44.5" text-anchor="middle" fill="#000" >60</text>
<text transform="translate(1099.0,1157.8) rotate(-90) scale(1,1.05)" font-size="49.2" text-anchor="middle">BNC/MAOC (%)</text>
<g clip-path="url(#cx)"><text x="1614.5" y="1638.6" font-size="50" text-anchor="middle" fill="#222">FNC/MAOC (%)</text></g>
<text x="1968.55" y="906.00" font-size="65.5" text-anchor="start" fill="#222" >(d)</text>
<line x1="1385.60" y1="1293.60" x2="1887.50" y2="1220.50" stroke="#00b868" stroke-width="2.0" stroke-linecap="butt"/>
<path d="M1690.1,998.9 L1698.2,1014.7 L1682.0,1014.7 Z" fill="#05bc73"/>
<path d="M1687.6,1044.9 L1695.7,1060.7 L1679.5,1060.7 Z" fill="#05bc73"/>
<path d="M1655.9,1116.9 L1664.0,1132.7 L1647.8,1132.7 Z" fill="#05bc73"/>
<path d="M1683.3,1133.7 L1691.4,1149.5 L1675.2,1149.5 Z" fill="#05bc73"/>
<path d="M1696.8,1151.8 L1704.9,1167.6 L1688.7,1167.6 Z" fill="#05bc73"/>
<path d="M1728.5,1147.3 L1736.6,1163.1 L1720.4,1163.1 Z" fill="#05bc73"/>
<path d="M1816.8,1138.7 L1824.9,1154.5 L1808.7,1154.5 Z" fill="#05bc73"/>
<path d="M1887.7,1148.5 L1895.8,1164.3 L1879.6,1164.3 Z" fill="#05bc73"/>
<path d="M1704.8,1175.2 L1712.9,1191.0 L1696.7,1191.0 Z" fill="#05bc73"/>
<path d="M1771.6,1192.0 L1779.7,1207.8 L1763.5,1207.8 Z" fill="#05bc73"/>
<path d="M1751.7,1198.7 L1759.8,1214.5 L1743.6,1214.5 Z" fill="#05bc73"/>
<path d="M1396.9,1186.1 L1405.0,1201.9 L1388.8,1201.9 Z" fill="#05bc73"/>
<path d="M1445.5,1155.8 L1453.6,1171.6 L1437.4,1171.6 Z" fill="#05bc73"/>
<path d="M1460.2,1165.1 L1468.3,1180.9 L1452.1,1180.9 Z" fill="#05bc73"/>
<path d="M1500.5,1173.5 L1508.6,1189.3 L1492.4,1189.3 Z" fill="#05bc73"/>
<path d="M1523.6,1188.6 L1531.7,1204.4 L1515.5,1204.4 Z" fill="#05bc73"/>
<path d="M1508.8,1201.0 L1516.9,1216.8 L1500.7,1216.8 Z" fill="#05bc73"/>
<path d="M1385.6,1208.3 L1393.7,1224.1 L1377.5,1224.1 Z" fill="#05bc73"/>
<path d="M1386.6,1213.3 L1394.7,1229.1 L1378.5,1229.1 Z" fill="#05bc73"/>
<path d="M1559.8,1209.1 L1567.9,1224.9 L1551.7,1224.9 Z" fill="#05bc73"/>
<path d="M1477.4,1224.1 L1485.5,1239.9 L1469.3,1239.9 Z" fill="#05bc73"/>
<path d="M1385.1,1242.5 L1393.2,1258.3 L1377.0,1258.3 Z" fill="#05bc73"/>
<path d="M1513.6,1240.5 L1521.7,1256.3 L1505.5,1256.3 Z" fill="#05bc73"/>
<path d="M1518.1,1244.2 L1526.2,1260.0 L1510.0,1260.0 Z" fill="#05bc73"/>
<path d="M1503.6,1278.2 L1511.7,1294.0 L1495.5,1294.0 Z" fill="#05bc73"/>
<path d="M1521.4,1283.7 L1529.5,1299.5 L1513.3,1299.5 Z" fill="#05bc73"/>
<path d="M1397.9,1306.6 L1406.0,1322.4 L1389.8,1322.4 Z" fill="#05bc73"/>
<path d="M1491.7,1338.5 L1499.8,1354.3 L1483.6,1354.3 Z" fill="#05bc73"/>
<path d="M1575.6,1301.1 L1583.7,1316.9 L1567.5,1316.9 Z" fill="#05bc73"/>
<path d="M1642.8,1289.1 L1650.9,1304.9 L1634.7,1304.9 Z" fill="#05bc73"/>
<path d="M1637.0,1306.6 L1645.1,1322.4 L1628.9,1322.4 Z" fill="#05bc73"/>
<path d="M1641.9,1324.2 L1650.0,1340.0 L1633.8,1340.0 Z" fill="#05bc73"/>
<path d="M1675.1,1322.5 L1683.2,1338.3 L1667.0,1338.3 Z" fill="#05bc73"/>
<path d="M1694.8,1304.6 L1702.9,1320.4 L1686.7,1320.4 Z" fill="#05bc73"/>
<path d="M1609.4,1329.3 L1617.5,1345.1 L1601.3,1345.1 Z" fill="#05bc73"/>
<path d="M1615.4,1332.1 L1623.5,1347.9 L1607.3,1347.9 Z" fill="#05bc73"/>
<path d="M1615.2,1385.1 L1623.3,1400.9 L1607.1,1400.9 Z" fill="#05bc73"/>
<path d="M1623.0,1396.7 L1631.1,1412.5 L1614.9,1412.5 Z" fill="#05bc73"/>
<path d="M1557.2,1402.5 L1565.3,1418.3 L1549.1,1418.3 Z" fill="#05bc73"/>
<path d="M1593.0,1415.7 L1601.1,1431.5 L1584.9,1431.5 Z" fill="#05bc73"/>
<path d="M1629.2,1419.6 L1637.3,1435.4 L1621.1,1435.4 Z" fill="#05bc73"/>
<path d="M1562.6,1424.6 L1570.7,1440.4 L1554.5,1440.4 Z" fill="#05bc73"/>
<path d="M1583.9,1426.4 L1592.0,1442.2 L1575.8,1442.2 Z" fill="#05bc73"/>
<path d="M1679.8,1433.9 L1687.9,1449.7 L1671.7,1449.7 Z" fill="#05bc73"/>
<path d="M1491.7,1419.0 L1499.8,1434.8 L1483.6,1434.8 Z" fill="#05bc73"/>
<path d="M1658.6,1248.4 L1666.7,1264.2 L1650.5,1264.2 Z" fill="#05bc73"/>
<path d="M1682.9,1232.8 L1691.0,1248.6 L1674.8,1248.6 Z" fill="#05bc73"/>
<path d="M1711.4,1253.3 L1719.5,1269.1 L1703.3,1269.1 Z" fill="#05bc73"/>
<line x1="1561.10" y1="1250.50" x2="1935.50" y2="866.20" stroke="#05607f" stroke-width="2.2" stroke-linecap="butt"/>
<circle cx="1849.7" cy="814.7" r="8.1" fill="#077a96"/>
<circle cx="1803.7" cy="854.2" r="8.1" fill="#077a96"/>
<circle cx="1798.4" cy="865.0" r="8.1" fill="#077a96"/>
<circle cx="1724.0" cy="877.6" r="8.1" fill="#077a96"/>
<circle cx="1839.2" cy="877.6" r="8.1" fill="#077a96"/>
<circle cx="1899.3" cy="888.9" r="8.1" fill="#077a96"/>
<circle cx="1920.4" cy="912.5" r="8.1" fill="#077a96"/>
<circle cx="1703.1" cy="947.0" r="8.1" fill="#077a96"/>
<circle cx="1737.8" cy="957.5" r="8.1" fill="#077a96"/>
<circle cx="1801.7" cy="958.8" r="8.1" fill="#077a96"/>
<circle cx="1854.5" cy="952.2" r="8.1" fill="#077a96"/>
<circle cx="1930.7" cy="953.7" r="8.1" fill="#077a96"/>
<circle cx="1658.6" cy="993.2" r="8.1" fill="#077a96"/>
<circle cx="1764.2" cy="987.4" r="8.1" fill="#077a96"/>
<circle cx="1774.0" cy="990.5" r="8.1" fill="#077a96"/>
<circle cx="1831.9" cy="986.2" r="8.1" fill="#077a96"/>
<circle cx="1746.4" cy="1005.0" r="8.1" fill="#077a96"/>
<circle cx="1899.0" cy="993.5" r="8.1" fill="#077a96"/>
<circle cx="1935.5" cy="1005.8" r="8.1" fill="#077a96"/>
<circle cx="1693.8" cy="1039.0" r="8.1" fill="#077a96"/>
<circle cx="1820.8" cy="1041.3" r="8.1" fill="#077a96"/>
<circle cx="1929.2" cy="1043.5" r="8.1" fill="#077a96"/>
<circle cx="1749.9" cy="1059.4" r="8.1" fill="#077a96"/>
<circle cx="1790.6" cy="1058.1" r="8.1" fill="#077a96"/>
<circle cx="1824.3" cy="1064.9" r="8.1" fill="#077a96"/>
<circle cx="1770.3" cy="1082.2" r="8.1" fill="#077a96"/>
<circle cx="1724.8" cy="1090.5" r="8.1" fill="#077a96"/>
<circle cx="1830.1" cy="1107.9" r="8.1" fill="#077a96"/>
<circle cx="1657.1" cy="1135.3" r="8.1" fill="#077a96"/>
<circle cx="1797.4" cy="1149.6" r="8.1" fill="#077a96"/>
<circle cx="1635.5" cy="1165.7" r="8.1" fill="#077a96"/>
<circle cx="1568.7" cy="1170.5" r="8.1" fill="#077a96"/>
<circle cx="1726.0" cy="1188.6" r="8.1" fill="#077a96"/>
<circle cx="1561.1" cy="1201.7" r="8.1" fill="#077a96"/>
<circle cx="1572.3" cy="1267.1" r="8.1" fill="#077a96"/>
<circle cx="1592.5" cy="1291.1" r="8.1" fill="#077a96"/>
<circle cx="1600.0" cy="1322.0" r="8.1" fill="#077a96"/>
<circle cx="1683.7" cy="1284.8" r="8.1" fill="#077a96"/>
<circle cx="1729.5" cy="1269.5" r="8.1" fill="#077a96"/>
<circle cx="1741.4" cy="1247.6" r="8.1" fill="#077a96"/>
<circle cx="1764.2" cy="1260.7" r="8.1" fill="#077a96"/>
<circle cx="1653.9" cy="1373.3" r="8.1" fill="#077a96"/>
<circle cx="1660.5" cy="1385.8" r="8.1" fill="#077a96"/>
<line x1="1428.90" y1="1306.40" x2="2010.20" y2="1214.20" stroke="#f2552c" stroke-width="2.0" stroke-linecap="butt"/>
<path d="M1605.6,1100.4 L1613.7,1084.6 L1597.5,1084.6 Z" fill="#ef6e4e"/>
<path d="M1659.5,1123.3 L1667.6,1107.5 L1651.4,1107.5 Z" fill="#ef6e4e"/>
<path d="M1592.4,1146.9 L1600.5,1131.1 L1584.3,1131.1 Z" fill="#ef6e4e"/>
<path d="M1882.2,1087.6 L1890.3,1071.8 L1874.1,1071.8 Z" fill="#ef6e4e"/>
<path d="M1789.9,1136.2 L1798.0,1120.4 L1781.8,1120.4 Z" fill="#ef6e4e"/>
<path d="M1812.8,1173.4 L1820.9,1157.6 L1804.7,1157.6 Z" fill="#ef6e4e"/>
<path d="M1923.4,1168.3 L1931.5,1152.5 L1915.3,1152.5 Z" fill="#ef6e4e"/>
<path d="M1571.6,1193.0 L1579.7,1177.2 L1563.5,1177.2 Z" fill="#ef6e4e"/>
<path d="M1595.2,1201.3 L1603.3,1185.5 L1587.1,1185.5 Z" fill="#ef6e4e"/>
<path d="M1599.8,1200.4 L1607.9,1184.6 L1591.7,1184.6 Z" fill="#ef6e4e"/>
<path d="M1743.9,1197.3 L1752.0,1181.5 L1735.8,1181.5 Z" fill="#ef6e4e"/>
<path d="M1825.3,1205.0 L1833.4,1189.2 L1817.2,1189.2 Z" fill="#ef6e4e"/>
<path d="M1433.4,1137.5 L1441.5,1121.7 L1425.3,1121.7 Z" fill="#ef6e4e"/>
<path d="M1510.0,1104.2 L1518.1,1088.4 L1501.9,1088.4 Z" fill="#ef6e4e"/>
<path d="M1620.9,1220.7 L1629.0,1204.9 L1612.8,1204.9 Z" fill="#ef6e4e"/>
<path d="M1682.3,1232.2 L1690.4,1216.4 L1674.2,1216.4 Z" fill="#ef6e4e"/>
<path d="M1620.6,1240.3 L1628.7,1224.5 L1612.5,1224.5 Z" fill="#ef6e4e"/>
<path d="M1649.9,1247.3 L1658.0,1231.5 L1641.8,1231.5 Z" fill="#ef6e4e"/>
<path d="M1757.0,1237.2 L1765.1,1221.4 L1748.9,1221.4 Z" fill="#ef6e4e"/>
<path d="M1936.0,1251.7 L1944.1,1235.9 L1927.9,1235.9 Z" fill="#ef6e4e"/>
<path d="M1737.8,1281.9 L1745.9,1266.1 L1729.7,1266.1 Z" fill="#ef6e4e"/>
<path d="M1768.0,1281.9 L1776.1,1266.1 L1759.9,1266.1 Z" fill="#ef6e4e"/>
<path d="M1941.0,1304.3 L1949.1,1288.5 L1932.9,1288.5 Z" fill="#ef6e4e"/>
<path d="M1601.6,1308.9 L1609.7,1293.1 L1593.5,1293.1 Z" fill="#ef6e4e"/>
<path d="M1632.3,1328.4 L1640.4,1312.6 L1624.2,1312.6 Z" fill="#ef6e4e"/>
<path d="M1966.7,1347.8 L1974.8,1332.0 L1958.6,1332.0 Z" fill="#ef6e4e"/>
<path d="M1580.1,1365.0 L1588.2,1349.2 L1572.0,1349.2 Z" fill="#ef6e4e"/>
<path d="M1609.6,1364.5 L1617.7,1348.7 L1601.5,1348.7 Z" fill="#ef6e4e"/>
<path d="M1595.7,1373.0 L1603.8,1357.2 L1587.6,1357.2 Z" fill="#ef6e4e"/>
<path d="M1596.9,1385.6 L1605.0,1369.8 L1588.8,1369.8 Z" fill="#ef6e4e"/>
<path d="M1631.1,1385.6 L1639.2,1369.8 L1623.0,1369.8 Z" fill="#ef6e4e"/>
<path d="M1577.1,1392.9 L1585.2,1377.1 L1569.0,1377.1 Z" fill="#ef6e4e"/>
<path d="M1603.1,1393.9 L1611.2,1378.1 L1595.0,1378.1 Z" fill="#ef6e4e"/>
<path d="M1648.5,1405.7 L1656.6,1389.9 L1640.4,1389.9 Z" fill="#ef6e4e"/>
<path d="M1804.0,1395.1 L1812.1,1379.3 L1795.9,1379.3 Z" fill="#ef6e4e"/>
<path d="M1820.3,1419.0 L1828.4,1403.2 L1812.2,1403.2 Z" fill="#ef6e4e"/>
<path d="M1598.7,1447.5 L1606.8,1431.7 L1590.6,1431.7 Z" fill="#ef6e4e"/>
<path d="M1530.0,1224.8 L1538.1,1209.0 L1521.9,1209.0 Z" fill="#ef6e4e"/>
<path d="M1531.2,1233.6 L1539.3,1217.8 L1523.1,1217.8 Z" fill="#ef6e4e"/>
<path d="M1468.6,1245.7 L1476.7,1229.9 L1460.5,1229.9 Z" fill="#ef6e4e"/>
<path d="M1428.6,1271.8 L1436.7,1256.0 L1420.5,1256.0 Z" fill="#ef6e4e"/>
<path d="M1481.2,1294.0 L1489.3,1278.2 L1473.1,1278.2 Z" fill="#ef6e4e"/>
<path d="M1437.2,1392.8 L1445.3,1377.0 L1429.1,1377.0 Z" fill="#ef6e4e"/>
<path d="M1481.7,1387.0 L1489.8,1371.2 L1473.6,1371.2 Z" fill="#ef6e4e"/>
<path d="M1452.8,1436.0 L1460.9,1420.2 L1444.7,1420.2 Z" fill="#ef6e4e"/>
<path d="M1463.6,1432.5 L1471.7,1416.7 L1455.5,1416.7 Z" fill="#ef6e4e"/>
<path d="M1480.4,1444.8 L1488.5,1429.0 L1472.3,1429.0 Z" fill="#ef6e4e"/>
<line x1="1239.10" y1="844.00" x2="1281.90" y2="844.00" stroke="#05607f" stroke-width="2.0" stroke-linecap="butt"/>
<circle cx="1260.5" cy="844" r="8.2" fill="#077a96"/>
<text x="1313.76" y="860.00" font-size="34.5">R<tspan font-size="23.46" dy="-15.59">2</tspan><tspan dy="15.59">=0.36 p&lt;0.0001</tspan></text>
<line x1="1237.00" y1="904.10" x2="1280.00" y2="904.10" stroke="#00b868" stroke-width="2.0" stroke-linecap="butt"/>
<path d="M1258.6,896.1 L1266.7,911.9 L1250.5,911.9 Z" fill="#05bc73"/>
<text x="1311.66" y="919.80" font-size="34.5">R<tspan font-size="23.46" dy="-15.59">2</tspan><tspan dy="15.59">=0.03 p&gt;0.05</tspan></text>
<line x1="1236.60" y1="963.80" x2="1279.30" y2="963.80" stroke="#f2552c" stroke-width="2.0" stroke-linecap="butt"/>
<path d="M1258.0,971.7 L1266.1,955.9 L1249.9,955.9 Z" fill="#ef6e4e"/>
<text x="1311.66" y="979.30" font-size="34.5">R<tspan font-size="23.46" dy="-15.59">2</tspan><tspan dy="15.59">=0.05 p&gt;0.05</tspan></text>
<line x1="821.70" y1="1666.60" x2="851.40" y2="1666.60" stroke="#000" stroke-width="2.4" stroke-linecap="butt"/>
<rect x="826.50" y="1656.50" width="20.40" height="20.40" fill="#e6191c" stroke="#000" stroke-width="2.6"/>
<text x="866.73" y="1677.60" font-size="32.5" text-anchor="start" fill="#000" >MS</text>
<line x1="951.60" y1="1665.50" x2="982.00" y2="1665.50" stroke="#000" stroke-width="2.4" stroke-linecap="butt"/>
<path d="M967.20,1657.40 L976.50,1674.30 L957.90,1674.30 Z" fill="#3a85c5" stroke="#000" stroke-width="2.6" stroke-linejoin="miter" stroke-miterlimit="10"/>
<text x="1002.62" y="1677.60" font-size="32.5" text-anchor="start" fill="#000" >DS</text>
<line x1="1103.80" y1="1666.60" x2="1133.60" y2="1666.60" stroke="#000" stroke-width="2.4" stroke-linecap="butt"/>
<path d="M1119.00,1657.11 L1128.74,1666.60 L1119.00,1676.09 L1109.26,1666.60 Z" fill="#a95a2c" stroke="#000" stroke-width="2.6" stroke-linejoin="miter"/>
<text x="1149.45" y="1677.60" font-size="32.5" text-anchor="start" fill="#000" >TS</text>
<line x1="1236.60" y1="1667.20" x2="1266.60" y2="1667.20" stroke="#000" stroke-width="2.4" stroke-linecap="butt"/>
<circle cx="1251.80" cy="1667.20" r="10.0" fill="#5c8f2a" stroke="#4e8a1f" stroke-width="0.9"/>
<text x="1282.09" y="1677.60" font-size="32.5" text-anchor="start" fill="#000" >SD</text>
</svg>
</body></html>
